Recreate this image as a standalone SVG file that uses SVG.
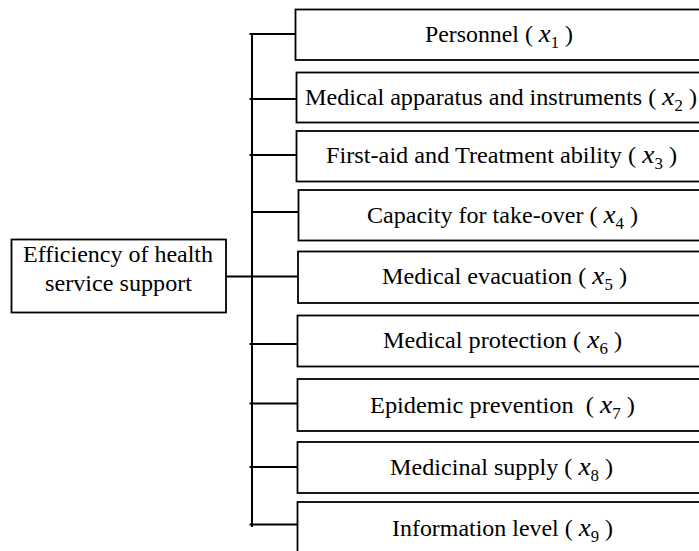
<svg xmlns="http://www.w3.org/2000/svg" width="699" height="551" viewBox="0 0 699 551">
<style>
.box{fill:#fff;stroke:#000;stroke-width:1.8}
.conn{stroke:#000;stroke-width:2;fill:none}
text{font-family:"Liberation Serif","Times New Roman",serif;font-size:23px;fill:#000}
.v{font-style:italic;font-size:26px}
.s{font-size:16px}
.p{font-size:23px}
</style>
<rect width="699" height="551" fill="#fff"/>
<g id="connectors">
<line class="conn" x1="252" y1="34" x2="252" y2="527"/>
<line class="conn" x1="249.5" y1="34" x2="296" y2="34"/>
<line class="conn" x1="249.5" y1="99" x2="297" y2="99"/>
<line class="conn" x1="249.5" y1="155" x2="297" y2="155"/>
<line class="conn" x1="252" y1="212" x2="299" y2="212"/>
<line class="conn" x1="226" y1="276.5" x2="298.5" y2="276.5"/>
<line class="conn" x1="249.5" y1="344" x2="298" y2="344"/>
<line class="conn" x1="249.5" y1="403.5" x2="298" y2="403.5"/>
<line class="conn" x1="249.5" y1="467" x2="298" y2="467"/>
<line class="conn" x1="249.5" y1="524.5" x2="298" y2="524.5"/>
</g>
<g id="root">
<rect class="box" x="11.5" y="239.5" width="214.5" height="73"/>
<text x="23" y="262" textLength="190" lengthAdjust="spacingAndGlyphs">Efficiency of health</text>
<text x="45" y="291" textLength="147" lengthAdjust="spacingAndGlyphs">service support</text>
</g>
<g id="x1">
<rect class="box" x="295.5" y="9.5" width="410" height="50.5"/>
<text x="425" y="42" textLength="148" lengthAdjust="spacingAndGlyphs" xml:space="preserve">Personnel ( <tspan class="v">x</tspan><tspan class="s" dy="6">1</tspan><tspan class="p" dy="-6"> )</tspan></text>
</g>
<g id="x2">
<rect class="box" x="296.5" y="72.5" width="410" height="50"/>
<text x="305" y="105" textLength="392" lengthAdjust="spacingAndGlyphs" xml:space="preserve">Medical apparatus and instruments ( <tspan class="v">x</tspan><tspan class="s" dy="6">2</tspan><tspan class="p" dy="-6"> )</tspan></text>
</g>
<g id="x3">
<rect class="box" x="296.5" y="131" width="410" height="50.5"/>
<text x="326" y="163" textLength="351" lengthAdjust="spacingAndGlyphs" xml:space="preserve">First-aid and Treatment ability ( <tspan class="v">x</tspan><tspan class="s" dy="6">3</tspan><tspan class="p" dy="-6"> )</tspan></text>
</g>
<g id="x4">
<rect class="box" x="298.5" y="190" width="410" height="50.5"/>
<text x="367" y="223" textLength="271" lengthAdjust="spacingAndGlyphs" xml:space="preserve">Capacity for take-over ( <tspan class="v">x</tspan><tspan class="s" dy="6">4</tspan><tspan class="p" dy="-6"> )</tspan></text>
</g>
<g id="x5">
<rect class="box" x="298" y="251.5" width="410" height="51.5"/>
<text x="382" y="284" textLength="245" lengthAdjust="spacingAndGlyphs" xml:space="preserve">Medical evacuation ( <tspan class="v">x</tspan><tspan class="s" dy="6">5</tspan><tspan class="p" dy="-6"> )</tspan></text>
</g>
<g id="x6">
<rect class="box" x="297.5" y="315.5" width="410" height="51"/>
<text x="383" y="348" textLength="239" lengthAdjust="spacingAndGlyphs" xml:space="preserve">Medical protection ( <tspan class="v">x</tspan><tspan class="s" dy="6">6</tspan><tspan class="p" dy="-6"> )</tspan></text>
</g>
<g id="x7">
<rect class="box" x="297.5" y="379" width="410" height="52"/>
<text x="370" y="413" textLength="265" lengthAdjust="spacingAndGlyphs" xml:space="preserve">Epidemic prevention  ( <tspan class="v">x</tspan><tspan class="s" dy="6">7</tspan><tspan class="p" dy="-6"> )</tspan></text>
</g>
<g id="x8">
<rect class="box" x="297.5" y="442" width="410" height="51"/>
<text x="390" y="475" textLength="223" lengthAdjust="spacingAndGlyphs" xml:space="preserve">Medicinal supply ( <tspan class="v">x</tspan><tspan class="s" dy="6">8</tspan><tspan class="p" dy="-6"> )</tspan></text>
</g>
<g id="x9">
<rect class="box" x="297.5" y="502" width="410" height="60"/>
<text x="392" y="536" textLength="221" lengthAdjust="spacingAndGlyphs" xml:space="preserve">Information level ( <tspan class="v">x</tspan><tspan class="s" dy="6">9</tspan><tspan class="p" dy="-6"> )</tspan></text>
</g>
</svg>
